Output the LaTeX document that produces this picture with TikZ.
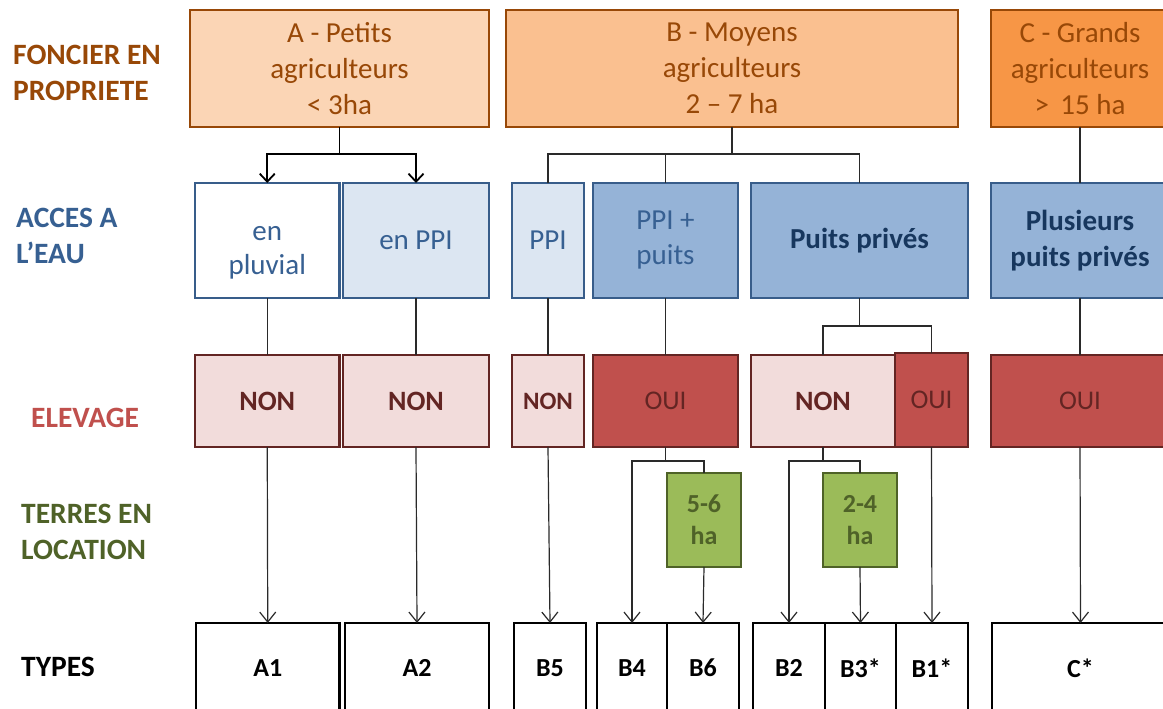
\documentclass[tikz,border=0pt]{standalone}
\usepackage{fontspec}
\setmainfont{Carlito}
\usetikzlibrary{arrows.meta}
\definecolor{obrd}{HTML}{984807}
\definecolor{ofA}{HTML}{FBD5B5}
\definecolor{ofB}{HTML}{FAC090}
\definecolor{ofC}{HTML}{F79646}
\definecolor{otxt}{HTML}{984807}
\definecolor{bbrd}{HTML}{385D8A}
\definecolor{bfl}{HTML}{DCE6F2}
\definecolor{bfm}{HTML}{95B3D7}
\definecolor{btxt}{HTML}{376092}
\definecolor{bdark}{HTML}{17375E}
\definecolor{rbrd}{HTML}{632523}
\definecolor{rfl}{HTML}{F2DCDB}
\definecolor{rfd}{HTML}{C0504D}
\definecolor{gfill}{HTML}{9BBB59}
\definecolor{gbrd}{HTML}{4F6228}
\definecolor{lnc}{HTML}{2A2A2A}
\tikzset{
 bx/.style={draw,rectangle,inner sep=0pt,outer sep=0pt,align=center},
 sz/.style 2 args={minimum width=#1,minimum height=#2},
 obox/.style={bx,draw=obrd,line width=2.6pt,text=otxt,font=\fontsize{29}{36}\selectfont},
 wbox/.style={bx,draw=bbrd,line width=2.6pt,text=btxt,font=\fontsize{29}{35}\selectfont},
 wboxb/.style={wbox,text=bdark,font=\fontsize{29}{36}\selectfont\bfseries},
 rboxn/.style={bx,draw=rbrd,fill=rfl,line width=2.2pt,text=rbrd,font=\fontsize{28}{32}\selectfont\bfseries},
 rboxo/.style={bx,draw=rbrd,fill=rfd,line width=2.2pt,text=rbrd,font=\fontsize{27}{32}\selectfont},
 gbox/.style={bx,draw=gbrd,fill=gfill,line width=2.2pt,text=gbrd,font=\fontsize{26}{32}\selectfont\bfseries},
 tbox/.style={bx,draw=black,fill=white,line width=2.6pt,font=\fontsize{26}{30}\selectfont\bfseries},
 lab/.style={anchor=west,align=left,inner sep=0pt,font=\fontsize{29.5}{36}\selectfont\bfseries},
 ln/.style={draw=lnc,line width=1.1pt},
 lnA/.style={draw=black,line width=1.8pt},
 arr/.style={draw=lnc,line width=1.2pt,arrows={-Straight Barb[length=10pt,width=16pt]}},
 arrA/.style={draw=black,line width=1.8pt,arrows={-Straight Barb[length=8pt,width=15pt]}},
}
\begin{document}
\begin{tikzpicture}[x=1pt,y=-1pt]
\useasboundingbox (0,0) rectangle (1163,709);
\clip (0,0) rectangle (1163,709);
\fill[white] (0,0) rectangle (1163,709);

% left labels
\node[lab,text=obrd] (l1) at (13,73) {FONCIER EN\\PROPRIETE};
\node[lab,text=btxt] (l2) at (16,235.5) {ACCES A\\L’EAU};
\node[lab,text=rfd] (l3) at (31,418) {ELEVAGE};
\node[lab,text=gbrd] (l4) at (21,532) {TERRES EN\\LOCATION};
\node[lab,text=black] (l5) at (21,667) {TYPES};

% row 1
\node[obox,fill=ofA,sz={299pt}{117pt}] (A) at (339.5,68.5) {A - Petits\\agriculteurs\\< 3ha};
\node[obox,fill=ofB,sz={452pt}{117pt}] (B) at (732,68.5) {B - Moyens\\agriculteurs\\2 – 7 ha};
\node[obox,fill=ofC,sz={178pt}{117pt}] (C) at (1080,68.5) {C - Grands\\agriculteurs\\>\, 15 ha};

% row 2
\node[wbox,fill=white,sz={144.5pt}{115pt},text depth=0pt] (pluv) at (267.25,240.5) {\raisebox{9pt}{\begin{tabular}{@{}c@{}}en\\[-0.5pt]pluvial\end{tabular}}};
\node[wbox,fill=bfl,sz={146pt}{115pt}] (appi) at (416,240.5) {en PPI};
\node[wbox,fill=bfl,sz={72pt}{115pt}] (ppi) at (548,240.5) {PPI};
\node[wbox,fill=bfm,sz={145pt}{115pt}] (ppip) at (665.5,240.5) {PPI +\\puits};
\node[wboxb,fill=bfm,sz={217pt}{115pt}] (pp) at (859.5,240.5) {Puits privés};
\node[wboxb,fill=bfm,sz={178pt}{115pt}] (pl) at (1080,240.5) {Plusieurs\\puits privés};

% row 3
\node[rboxn,sz={144.5pt}{92pt}] (n1) at (267.25,401) {NON};
\node[rboxn,sz={146pt}{92pt}] (n2) at (416,401) {NON};
\node[rboxn,sz={72pt}{92pt},font=\fontsize{25}{30}\selectfont\bfseries] (n3) at (548,401) {NON};
\node[rboxo,sz={145pt}{92pt}] (o1) at (665.5,401) {OUI};
\node[rboxn,sz={144pt}{92pt}] (n4) at (823,401) {NON};
\node[rboxo,sz={73pt}{94pt}] (o2) at (931.5,400) {OUI};
\node[rboxo,sz={178pt}{92pt}] (o3) at (1080,401) {OUI};

% row 4
\node[gbox,sz={74pt}{94pt}] (g1) at (704,520) {5-6\\ha};
\node[gbox,sz={74pt}{94pt}] (g2) at (860,520) {2-4\\ha};

% row 5
\node[tbox,sz={143.5pt}{90pt}] (t1) at (267.75,668) {A1};
\node[tbox,sz={144pt}{90pt}] (t2) at (417,668) {A2};
\node[tbox,sz={72pt}{90pt}] (t3) at (550,668) {B5};
\node[tbox,sz={70pt}{90pt}] (t4) at (632,668) {B4};
\node[tbox,sz={72pt}{90pt}] (t5) at (703,668) {B6};
\node[tbox,sz={72pt}{90pt}] (t6) at (789,668) {B2};
\node[tbox,sz={71pt}{90pt}] (t7) at (860.5,668) {B3*};
\node[tbox,sz={72pt}{90pt}] (t8) at (932,668) {B1*};
\node[tbox,sz={177pt}{90pt}] (t9) at (1080.5,668) {C*};

% connectors row 1 -> row 2
\coordinate (ja) at (339.5,154);
\draw[lnA] (A.south) -- (ja);
\draw[arrA] (ja) -| (pluv.north);
\draw[arrA] (ja) -| (appi.north);
\coordinate (jb) at (732,154);
\draw[ln] (B.south) -- (jb);
\draw[ln] (jb) -| (ppi.north);
\draw[ln] (jb) -| (ppip.north);
\draw[ln] (jb) -| (pp.north);
\draw[ln] (C.south) -- (pl.north);

% row 2 -> row 3
\draw[ln] (pluv.south) -- (n1.north);
\draw[ln] (appi.south) -- (n2.north);
\draw[ln] (ppi.south) -- (n3.north);
\draw[ln] (ppip.south) -- (o1.north);
\coordinate (jp) at (859.5,326);
\draw[ln] (pp.south) -- (jp);
\draw[ln] (jp) -| (n4.north);
\draw[ln] (jp) -| (o2.north);
\draw[ln] (pl.south) -- (o3.north);

% row 3 -> row 5
\draw[arr] (n1.south) -- (t1.north);
\draw[arr] (n2.south) -- (t2.north);
\draw[arr] (n3.south) -- (t3.north);
\coordinate (jo) at (665.5,461);
\draw[ln] (o1.south) -- (jo);
\draw[arr] (jo) -| (t4.north);
\draw[ln] (jo) -| (g1.north);
\draw[arr] (g1.south) -- (t5.north);
\coordinate (jn) at (823,461);
\draw[ln] (n4.south) -- (jn);
\draw[arr] (jn) -| (t6.north);
\draw[ln] (jn) -| (g2.north);
\draw[arr] (g2.south) -- (t7.north);
\draw[arr] (o2.south) -- (t8.north);
\draw[arr] (o3.south) -- (t9.north);
\end{tikzpicture}
\end{document}
